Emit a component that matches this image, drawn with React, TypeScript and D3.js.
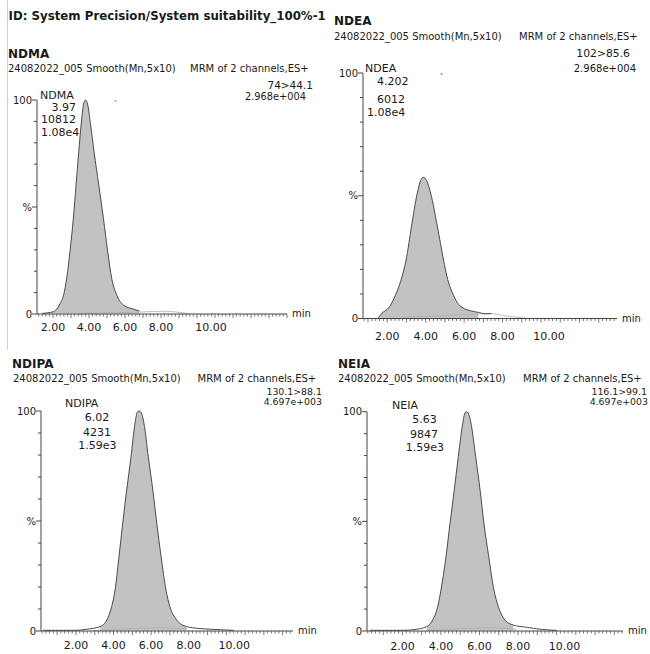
import React from 'react';
import * as d3 from 'd3';

// ---------- DATA ----------
const TITLE = 'ID: System Precision/System suitability_100%-1';
const SUB_LEFT = '24082022_005 Smooth(Mn,5x10)';
const SUB_RIGHT = 'MRM of 2 channels,ES+';
const X_TICK_LABELS = [2, 4, 6, 8, 10];
const Y_TICKS = [0, 10, 20, 30, 40, 50, 60, 70, 80, 90, 100];

// NDMA
const NDMA_T = [1.40, 2.02, 2.35, 2.63, 2.81, 2.94, 3.13, 3.28, 3.43, 3.56, 3.69, 3.80, 3.93, 4.09, 4.28, 4.54, 4.80, 5.04, 5.26, 5.54, 5.91, 6.46, 6.80];
const NDMA_P = [0.3, 1.1, 4.2, 10.4, 19.8, 29.1, 44.7, 60.3, 75.8, 88.3, 97.7, 100, 97.7, 88.3, 75.8, 60.3, 44.7, 29.1, 16.7, 8.9, 4.2, 2.3, 1.4];
const NDMA_FAINT_T = [3.39, 5.5, 6.83, 8.06, 9.6];
const NDMA_FAINT_P = [0.3, 0.6, 0.9, 1.3, 0.1];
const NDMA_LABELS = ['NDMA', '3.97', '10812', '1.08e4'];
const NDMA_CHANNEL = ['74>44.1', '2.968e+004'];

// NDEA
const NDEA_T = [1.54, 1.72, 2.12, 2.47, 2.77, 2.98, 3.26, 3.56, 3.74, 3.88, 4.05, 4.26, 4.61, 4.93, 5.11, 5.40, 5.84, 6.54, 6.74, 7.10, 7.42];
const NDEA_P = [0.3, 2.1, 4.8, 10.3, 17.0, 23.8, 37.4, 51.0, 56.2, 57.5, 56.2, 51.0, 37.4, 23.8, 17.0, 10.3, 4.8, 2.8, 2.5, 1.9, 2.0];
const NDEA_FAINT_T = [2.77, 5.0, 7.42, 8.2, 9.17];
const NDEA_FAINT_P = [0.5, 1.2, 2.0, 1.0, 0.2];
const NDEA_LABELS = ['NDEA', '4.202', '6012', '1.08e4'];
const NDEA_CHANNEL = ['102>85.6', '2.968e+004'];

// NDIPA
const NDIPA_T = [0.25, 2.0, 2.57, 3.28, 3.64, 3.90, 4.08, 4.29, 4.49, 4.70, 4.93, 5.14, 5.27, 5.37, 5.46, 5.62, 5.85, 6.09, 6.30, 6.53, 6.79, 7.00, 7.36, 7.89, 8.60, 9.66, 10.4];
const NDIPA_P = [0.3, 0.3, 0.8, 2.0, 5.0, 11.1, 18.6, 33.8, 49.0, 64.1, 79.2, 94.4, 99.6, 100, 99.4, 94.4, 79.2, 64.1, 49.0, 33.8, 18.6, 11.1, 5.0, 2.0, 1.1, 0.6, 0.3];
const NDIPA_FAINT_T = [2.9, 5.0, 6.47, 7.9];
const NDIPA_FAINT_P = [0.2, 1.0, 1.5, 1.0];
const NDIPA_LABELS = ['NDIPA', '6.02', '4231', '1.59e3'];
const NDIPA_CHANNEL = ['130.1>88.1', '4.697e+003'];

// NEIA
const NEIA_T = [0.31, 2.0, 2.74, 3.26, 3.57, 3.83, 4.00, 4.26, 4.47, 4.69, 4.90, 5.13, 5.25, 5.33, 5.41, 5.56, 5.80, 6.03, 6.23, 6.48, 6.75, 6.98, 7.32, 7.76, 8.45, 9.14, 10.0];
const NEIA_P = [0.3, 0.3, 0.8, 2.0, 5.0, 11.1, 18.7, 33.9, 49.1, 64.3, 79.5, 94.7, 99.6, 100, 99.5, 94.7, 79.5, 64.3, 49.1, 33.9, 18.7, 11.1, 5.0, 2.7, 1.7, 0.8, 0.3];
const NEIA_FAINT_T = [3.26, 5.0, 6.37, 7.93];
const NEIA_FAINT_P = [0.2, 1.0, 1.5, 0.8];
const NEIA_LABELS = ['NEIA', '5.63', '9847', '1.59e3'];
const NEIA_CHANNEL = ['116.1>99.1', '4.697e+003'];

// ---------- LAYOUT ----------
const FONT = "'DejaVu Sans', sans-serif";
const TXT = '#1a1a1a';

type Lbl = { x: number; y: number; anchor: 'start' | 'middle' | 'end'; size?: number };

interface PanelCfg {
  name: string;
  t: number[]; p: number[];
  faintT: number[]; faintP: number[];
  fill: [number, number];
  domain: [number, number];
  range: [number, number];
  y0: number; y100: number;
  titleX: number; titleY: number;
  subX: number; subY: number; subGap: number;
  labels: string[]; labelPos: Lbl[];
  channel: string[]; channelPos: Lbl[];
  tickLabelY: number;
  lastLabelDx: number;
  minY: number;
  artifact?: [number, number];
}

const panels: PanelCfg[] = [
  {
    name: 'NDMA', t: NDMA_T, p: NDMA_P, faintT: NDMA_FAINT_T, faintP: NDMA_FAINT_P,
    fill: [1.40, 6.80], domain: [1.11, 15.0], range: [37, 287], y0: 314, y100: 100,
    titleX: 8, titleY: 58, subX: 8, subY: 72, subGap: 182,
    labels: NDMA_LABELS,
    labelPos: [
      { x: 40, y: 99, anchor: 'start' }, { x: 76, y: 111, anchor: 'end' },
      { x: 76, y: 123, anchor: 'end' }, { x: 41, y: 135.5, anchor: 'start' },
    ],
    channel: NDMA_CHANNEL,
    channelPos: [{ x: 313, y: 88.5, anchor: 'end', size: 10.5 }, { x: 306, y: 99.5, anchor: 'end', size: 9.8 }],
    tickLabelY: 331, lastLabelDx: 14, minY: 317, artifact: [5.44, 100],
  },
  {
    name: 'NDEA', t: NDEA_T, p: NDEA_P, faintT: NDEA_FAINT_T, faintP: NDEA_FAINT_P,
    fill: [1.54, 6.74], domain: [0.74, 13.95], range: [363, 617], y0: 318.5, y100: 73,
    titleX: 334, titleY: 25, subX: 334, subY: 40, subGap: 185,
    labels: NDEA_LABELS,
    labelPos: [
      { x: 365, y: 71.5, anchor: 'start' }, { x: 377, y: 85, anchor: 'start' },
      { x: 377, y: 103.3, anchor: 'start' }, { x: 367, y: 116, anchor: 'start' },
    ],
    channel: NDEA_CHANNEL,
    channelPos: [{ x: 630, y: 56.5, anchor: 'end', size: 10.8 }, { x: 636, y: 71.5, anchor: 'end', size: 10 }],
    tickLabelY: 340, lastLabelDx: 8, minY: 321.5, artifact: [4.79, 100],
  },
  {
    name: 'NDIPA', t: NDIPA_T, p: NDIPA_P, faintT: NDIPA_FAINT_T, faintP: NDIPA_FAINT_P,
    fill: [3.28, 7.89], domain: [0.14, 13.55], range: [41, 293], y0: 631, y100: 411,
    titleX: 12, titleY: 368, subX: 13, subY: 382, subGap: 184.5,
    labels: NDIPA_LABELS,
    labelPos: [
      { x: 65, y: 407, anchor: 'start' }, { x: 97, y: 420.5, anchor: 'middle' },
      { x: 97, y: 435.5, anchor: 'middle' }, { x: 97.5, y: 449, anchor: 'middle' },
    ],
    channel: NDIPA_CHANNEL,
    channelPos: [{ x: 322, y: 395, anchor: 'end', size: 9.4 }, { x: 322, y: 404.5, anchor: 'end', size: 9.4 }],
    tickLabelY: 649, lastLabelDx: 8, minY: 633.5,
  },
  {
    name: 'NEIA', t: NEIA_T, p: NEIA_P, faintT: NEIA_FAINT_T, faintP: NEIA_FAINT_P,
    fill: [3.26, 7.76], domain: [0.16, 13.45], range: [367, 623], y0: 631, y100: 411.7,
    titleX: 338, titleY: 368, subX: 338, subY: 382, subGap: 185,
    labels: NEIA_LABELS,
    labelPos: [
      { x: 392, y: 409, anchor: 'start' }, { x: 424.5, y: 423, anchor: 'middle' },
      { x: 424, y: 438, anchor: 'middle' }, { x: 425, y: 451, anchor: 'middle' },
    ],
    channel: NEIA_CHANNEL,
    channelPos: [{ x: 647, y: 395, anchor: 'end', size: 9.4 }, { x: 648, y: 404.5, anchor: 'end', size: 9.4 }],
    tickLabelY: 650, lastLabelDx: 8, minY: 633.5,
  },
];

function Panel({ c }: { c: PanelCfg }) {
  const x = d3.scaleLinear().domain(c.domain).range(c.range);
  const y = d3.scaleLinear().domain([0, 100]).range([c.y0, c.y100]);
  const pts = c.t.map((t, i) => ({ t, p: c.p[i] }));
  const faint = c.faintT.map((t, i) => ({ t, p: c.faintP[i] }));
  const line = d3.line<{ t: number; p: number }>().x(d => x(d.t)).y(d => y(d.p)).curve(d3.curveMonotoneX);
  const area = d3.area<{ t: number; p: number }>().x(d => x(d.t)).y0(c.y0 - 0.5).y1(d => y(d.p)).curve(d3.curveMonotoneX);
  const fillPts = pts.filter(d => d.t >= c.fill[0] - 1e-9 && d.t <= c.fill[1] + 1e-9);
  const axisX = c.range[0];
  const [d0, d1] = c.domain;
  const minorTicks = d3.range(Math.ceil(d0 / 0.2) * 0.2, d1 + 1e-9, 0.2);
  return (
    <g>
      <text x={c.titleX} y={c.titleY} fontFamily={FONT} fontWeight="bold" fontSize={12} fill={TXT}>{c.name}</text>
      <text x={c.subX} y={c.subY} fontFamily={FONT} fontSize={10} fill={TXT}>{SUB_LEFT}</text>
      <text x={c.subX + c.subGap} y={c.subY} fontFamily={FONT} fontSize={10} fill={TXT}>{SUB_RIGHT}</text>
      {c.channel.map((s, i) => (
        <text key={i} x={c.channelPos[i].x} y={c.channelPos[i].y} textAnchor={c.channelPos[i].anchor}
          fontFamily={FONT} fontSize={c.channelPos[i].size ?? 10} fill={TXT}>{s}</text>
      ))}
      {/* fill + curve */}
      <path d={area(fillPts) || ''} fill="#c2c2c2" stroke="none" />
      <path d={line(faint) || ''} fill="none" stroke="#b0b0b0" strokeWidth={0.8} />
      <path d={line(pts) || ''} fill="none" stroke="#3a3a3a" strokeWidth={0.9} />
      {c.artifact && (
        <path d={`M${x(c.artifact[0])},${y(c.artifact[1])} l1.5,2`} stroke="#555" strokeWidth={0.9} />
      )}
      {/* y axis */}
      <line x1={axisX} x2={axisX} y1={c.y0} y2={c.y100} stroke="#444" strokeWidth={1} />
      {Y_TICKS.map(v => {
        const major = v === 0 || v === 50 || v === 100;
        return <line key={v} x1={axisX - (major ? 5 : 3)} x2={axisX} y1={y(v)} y2={y(v)} stroke="#444" strokeWidth={1} />;
      })}
      <text x={axisX - 5} y={y(100) + 3.5} textAnchor="end" fontFamily={FONT} fontSize={10} fill={TXT}>100</text>
      <text x={axisX - 5} y={y(50) + 3.5} textAnchor="end" fontFamily={FONT} fontSize={10} fill={TXT}>%</text>
      <text x={axisX - 5} y={y(0) + 3.5} textAnchor="end" fontFamily={FONT} fontSize={10} fill={TXT}>0</text>
      {/* x axis */}
      <line x1={axisX} x2={c.range[1]} y1={c.y0} y2={c.y0} stroke="#444" strokeWidth={1} />
      {minorTicks.map((t, i) => {
        const isInt = Math.abs(t - Math.round(t)) < 1e-6;
        return <line key={i} x1={x(t)} x2={x(t)} y1={c.y0} y2={c.y0 + (isInt ? 4 : 2.5)} stroke="#555" strokeWidth={0.8} />;
      })}
      {X_TICK_LABELS.map(v => (
        <text key={v} x={x(v) + (v >= 10 ? c.lastLabelDx : 0)} y={c.tickLabelY} textAnchor="middle"
          fontFamily={FONT} fontSize={11} fill={TXT}>{v.toFixed(2)}</text>
      ))}
      <text x={c.range[1] + 5} y={c.minY} fontFamily={FONT} fontSize={10} fill={TXT}>min</text>
      {/* peak labels */}
      {c.labels.map((s, i) => (
        <text key={i} x={c.labelPos[i].x} y={c.labelPos[i].y} textAnchor={c.labelPos[i].anchor}
          fontFamily={FONT} fontSize={c.labelPos[i].size ?? 11} fill={TXT}>{s}</text>
      ))}
    </g>
  );
}

export default function App() {
  return (
    <svg width={650} height={654} style={{ position: 'absolute', left: 0, top: 0, background: '#fff' }}>
      <rect x={0} y={0} width={650} height={654} fill="#fff" />
      <line x1={7.5} x2={7.5} y1={0} y2={350} stroke="#cfcfcf" strokeWidth={1} />
      <text x={8.5} y={20} fontFamily={FONT} fontWeight="bold" fontSize={11.8} fill={TXT}>{TITLE}</text>
      {panels.map(c => <Panel key={c.name} c={c} />)}
    </svg>
  );
}
